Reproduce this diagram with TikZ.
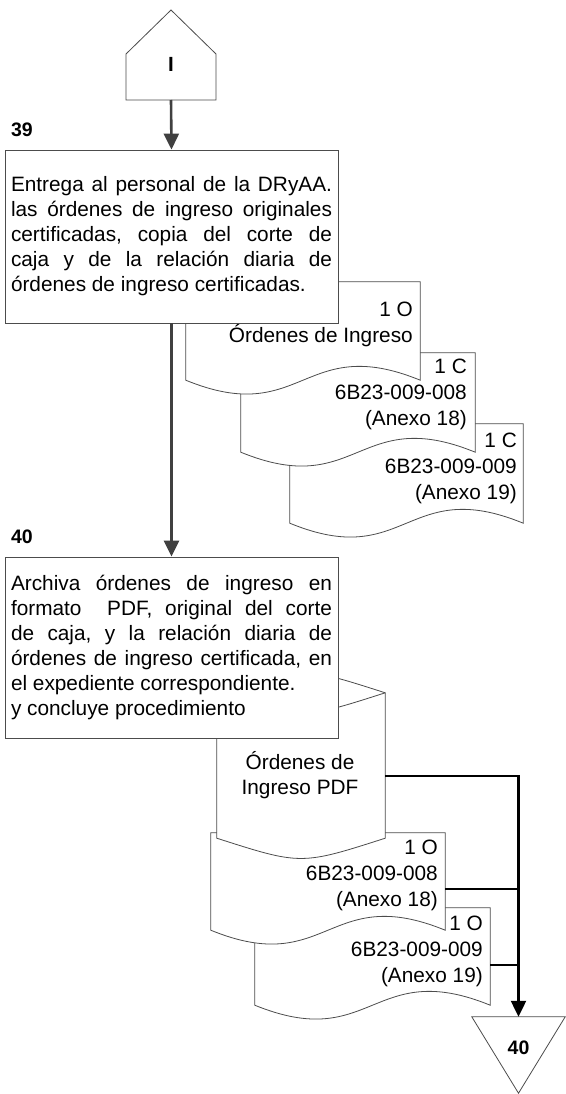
\documentclass[tikz,border=0pt]{standalone}
\usepackage{fontspec}
\setmainfont{Liberation Sans}
\usetikzlibrary{arrows.meta,calc}
\tikzset{
  shp/.style={draw=black!70, line width=0.8pt, fill=white},
  boxst/.style={shp, rectangle, text width=321pt, align=justify, inner sep=6pt,
    font=\fontsize{20.8}{25}\selectfont\frenchspacing},
  helper/.style={rectangle, inner sep=0pt},
  lbl/.style={align=right, inner sep=0pt, anchor=east, font=\fontsize{20.8}{26}\selectfont},
  numst/.style={inner sep=0pt, font=\fontsize{19.5}{21}\selectfont\bfseries},
  garrow/.style={draw=black!75, line width=2.6pt, -{Triangle[length=16pt,width=15pt]}},
  barrow/.style={draw=black, line width=2.2pt, -{Triangle[length=16pt,width=15pt]}},
  bline/.style={draw=black, line width=2.2pt}
}
\newcommand\mydoc[1]{%
  \draw[shp] (#1.south west) -- (#1.north west) -- (#1.north east) -- (#1.south east)
    .. controls ($(#1.south)+(0,-48)$) and ($(#1.south)+(0,48)$) .. (#1.south west) -- cycle;}
\begin{document}
\begin{tikzpicture}[x=1pt, y=-1pt]
\useasboundingbox[fill=white] (0,0) rectangle (565,1094);

% off-page connector I
\draw[shp] (126,100) -- (126,54) -- (171,10) -- (216,54) -- (216,100) -- cycle;
\node[numst, font=\fontsize{20.5}{22}\selectfont\bfseries] (conI) at (171,64) {I};
\coordinate (pb) at (171,100);

% documents of step 39
\node[helper, minimum width=233pt, minimum height=99pt] (d3) at (406.5,473.5) {};
\mydoc{d3}
\node[lbl] (l3) at (517,468) {1 C\\6B23-009-009\\(Anexo 19)};
\node[helper, minimum width=234pt, minimum height=99pt] (d2) at (358,402.5) {};
\mydoc{d2}
\node[lbl] (l2) at (467,394) {1 C\\6B23-009-008\\(Anexo 18)};
\node[helper, minimum width=234pt, minimum height=98pt] (d1) at (303,331) {};
\mydoc{d1}
\node[lbl] (l1) at (413,324) {1 O\\Órdenes de Ingreso};

% step 39
\node[numst] (n39) at (22,130) {39};
\node[boxst, minimum height=173pt] (b39) at (171.5,236.5) {\noindent Entrega al personal de la DRyAA.\linebreak
las órdenes de ingreso originales\linebreak
certificadas, copia del corte de\linebreak
caja y de la relación diaria de\linebreak
órdenes de ingreso certificadas.};

\draw[garrow] (pb) -- (b39.north);

% documents of step 40
\node[helper, minimum width=235pt, minimum height=97pt] (d5) at (372.5,956.5) {};
\mydoc{d5}
\node[lbl] (l5) at (483,951) {1 O\\6B23-009-009\\(Anexo 19)};
\node[helper, minimum width=234pt, minimum height=97pt] (d4) at (328,881.5) {};
\mydoc{d4}
\node[lbl] (l4) at (438,875) {1 O\\6B23-009-008\\(Anexo 18)};

% cylinder
\node[helper, minimum width=168pt, minimum height=145pt] (cyl) at (301,765.5) {};
\filldraw[shp] (cyl.north west) .. controls ($(cyl.north)+(0,-27)$) .. (cyl.north east)
  -- (cyl.south east) .. controls ($(cyl.south)+(0,27)$) .. (cyl.south west) -- cycle;
\draw[shp, fill=none] (cyl.north west) .. controls ($(cyl.north)+(0,27)$) .. (cyl.north east);
\node[align=center, inner sep=0pt, font=\fontsize{20.8}{25}\selectfont] (lc) at (300,775.5) {Órdenes de\\Ingreso PDF};

% step 40
\node[numst] (n40) at (22,537) {40};
\node[boxst, minimum height=181pt] (b40) at (171.5,647.5) {\noindent Archiva órdenes de ingreso en\linebreak
formato\ \ PDF, original del corte\linebreak
de caja, y la relación diaria de\linebreak
órdenes de ingreso certificada, en\linebreak
el expediente correspondiente.\par
\noindent y concluye procedimiento};

\draw[garrow] (b39.south) -- (b40.north);

% end connector 40
\node[helper, minimum width=93pt, minimum height=76pt] (tri) at (518.5,1055) {};
\draw[shp] (tri.north west) -- (tri.north east) -- (tri.south) -- cycle;
\node[numst] (t40) at (518.5,1048) {40};

\coordinate (j1) at (518.5,889);
\coordinate (j2) at (518.5,965);
\draw[barrow] ([yshift=-10.5pt]cyl.east) -| (tri.north);
\draw[bline] ([yshift=-7.5pt]d4.east) -- (j1);
\draw[bline] ([yshift=-8.5pt]d5.east) -- (j2);
\end{tikzpicture}
\end{document}
